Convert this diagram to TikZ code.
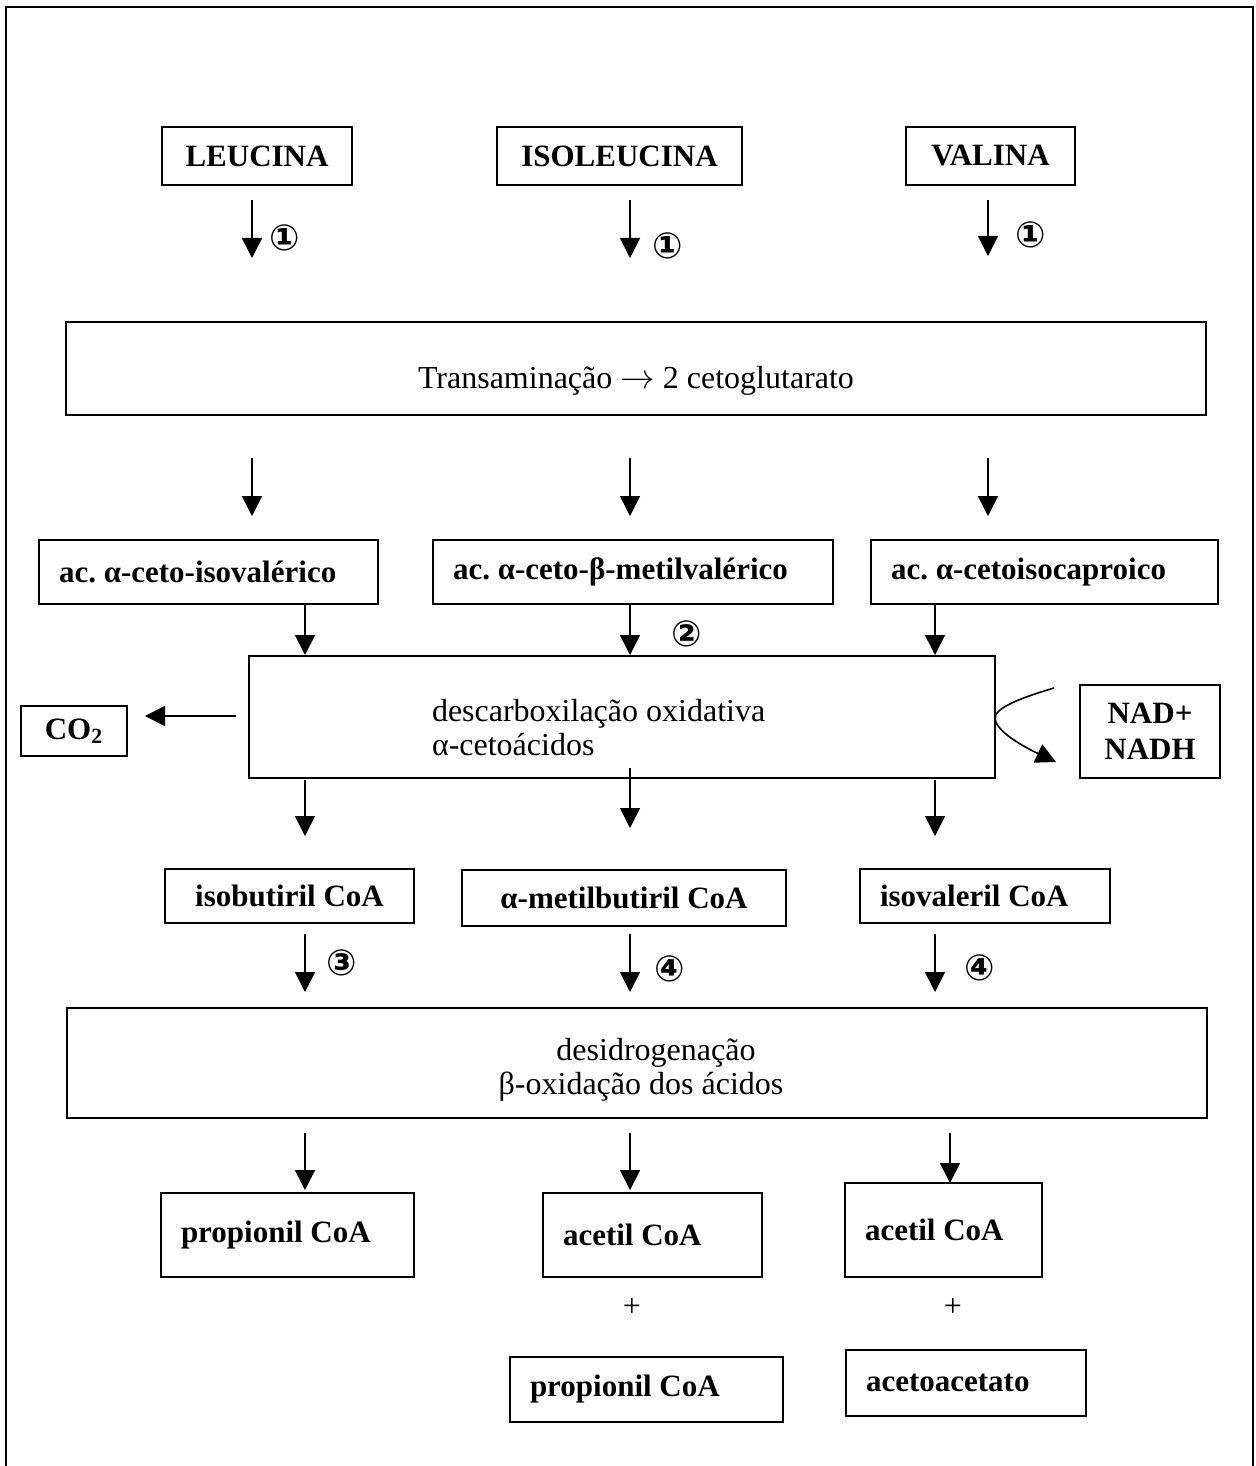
\documentclass[tikz,border=0pt]{standalone}
\usepackage{fontspec}
\setmainfont{Liberation Serif}
\newfontfamily\dvs{DejaVu Sans}
\usetikzlibrary{arrows.meta,calc}
\frenchspacing
\tikzset{
  box/.style={draw,line width=1pt,inner sep=0pt,font=\bfseries\fontsize{15.5}{18}\selectfont},
  reg/.style={font=\fontsize{16}{17}\selectfont},
  lbox/.style={text width=\tw pt,align=flush left,inner xsep=10pt},
  arr/.style={line width=0.8pt,-{Triangle[width=10pt,length=10pt]}},
  num/.style={font=\dvs\bfseries\fontsize{18}{18}\selectfont,inner sep=0pt},
}
\newcommand\bx[7]{%
  \pgfmathsetmacro\bw{(#4-#2)*0.5}\pgfmathsetmacro\bh{(#5-#3)*0.5}\pgfmathsetmacro\tw{\bw-20}%
  \node[box,#6,minimum width=\bw pt,minimum height=\bh pt] (#1) at ({(#2+#4)/2},{(#3+#5)/2}) {#7};}
\newcommand\ar[4]{\coordinate (#1s) at (#2,#3); \coordinate (#1e) at (#2,#4); \draw[arr] (#1s) -- (#1e);}
\begin{document}
\begin{tikzpicture}[x=0.5pt,y=-0.5pt]
\useasboundingbox (0,0) rectangle (1255,1466);
% outer frame
\draw[line width=1.3pt] (6,1470) -- (6,7) -- (1253,7) -- (1253,1470);
% amino acids
\bx{LEU}{162}{127}{352}{185}{}{LEUCINA}
\bx{ISO}{497}{127}{742}{185}{}{ISOLEUCINA}
\bx{VAL}{906}{127}{1075}{185}{}{VALINA}
\ar{a1}{252}{200}{258}
\ar{a2}{630}{200}{258}
\ar{a3}{988}{200}{256}
\node[num] (n1a) at (285,238) {①};
\node[num] (n1b) at (668,246) {①};
\node[num] (n1c) at (1031,235) {①};
% transamination
\bx{TRA}{66}{322}{1206}{415}{reg}{\rule{0pt}{23pt}Transaminação $\rightarrow$ 2 cetoglutarato}
\ar{b1}{252}{458}{516}
\ar{b2}{630}{458}{516}
\ar{b3}{988}{458}{516}
% keto acids
\bx{K1}{39}{540}{378}{604}{lbox}{ac. α-ceto-isovalérico}
\bx{K2}{433}{540}{833}{604}{lbox}{ac. α-ceto-β-metilvalérico}
\bx{K3}{871}{540}{1218}{604}{lbox}{ac. α-cetoisocaproico}
\ar{c1}{305}{605}{655}
\ar{c2}{630}{605}{655}
\ar{c3}{935}{605}{655}
\node[num] (n2) at (687,634) {②};
% decarboxylation
\bx{DES}{249}{656}{995}{778}{reg,align=flush left,text width=190pt,inner xsep=91.5pt}{\rule{0pt}{22pt}descarboxilação oxidativa\\α-cetoácidos}
\bx{CO}{21}{706}{127}{756}{}{CO\textsubscript{2}}
\coordinate (cos) at (236,716);
\coordinate (coe) at (145,716);
\draw[arr] (cos) -- (coe);
\bx{NAD}{1080}{685}{1220}{778}{align=center}{NAD+\\NADH}
\coordinate (nads) at (1054,688);
\coordinate (nadm) at (995,718);
\coordinate (nade) at (1056,762);
\draw[arr] (nads) .. controls (1020,698) and (995,708) .. (nadm) .. controls (995,730) and (1020,745) .. (nade);
\ar{d1}{305}{780}{836}
\ar{d2}{630}{768}{828}
\ar{d3}{935}{780}{836}
% CoA
\bx{I1}{165}{869}{414}{923}{}{isobutiril CoA}
\bx{I2}{462}{870}{786}{926}{}{α-metilbutiril CoA}
\bx{I3}{860}{869}{1110}{923}{lbox}{isovaleril CoA}
\ar{e1}{305}{934}{992}
\ar{e2}{630}{934}{992}
\ar{e3}{935}{934}{992}
\node[num] (n3) at (342,963) {③};
\node[num] (n4a) at (670,969) {④};
\node[num] (n4b) at (980,968) {④};
% dehydrogenation
\bx{DH}{67}{1008}{1207}{1118}{reg,align=center}{\hspace*{19pt}\rule{0pt}{18pt}desidrogenação\\\hspace*{4pt}β-oxidação dos ácidos}
\ar{f1}{305}{1133}{1190}
\ar{f2}{630}{1133}{1190}
\ar{f3}{950}{1133}{1183}
% products
\bx{P1}{161}{1193}{414}{1277}{lbox}{propionil CoA}
\bx{A1}{543}{1193}{762}{1277}{lbox}{acetil CoA}
\bx{A2}{845}{1183}{1042}{1277}{lbox}{acetil CoA}
\node[reg] (plus1) at (632,1307) {+};
\node[reg] (plus2) at (953,1307) {+};
\bx{P2}{510}{1357}{783}{1422}{lbox}{propionil CoA}
\bx{AA}{846}{1350}{1086}{1416}{lbox}{acetoacetato}
\end{tikzpicture}
\end{document}
